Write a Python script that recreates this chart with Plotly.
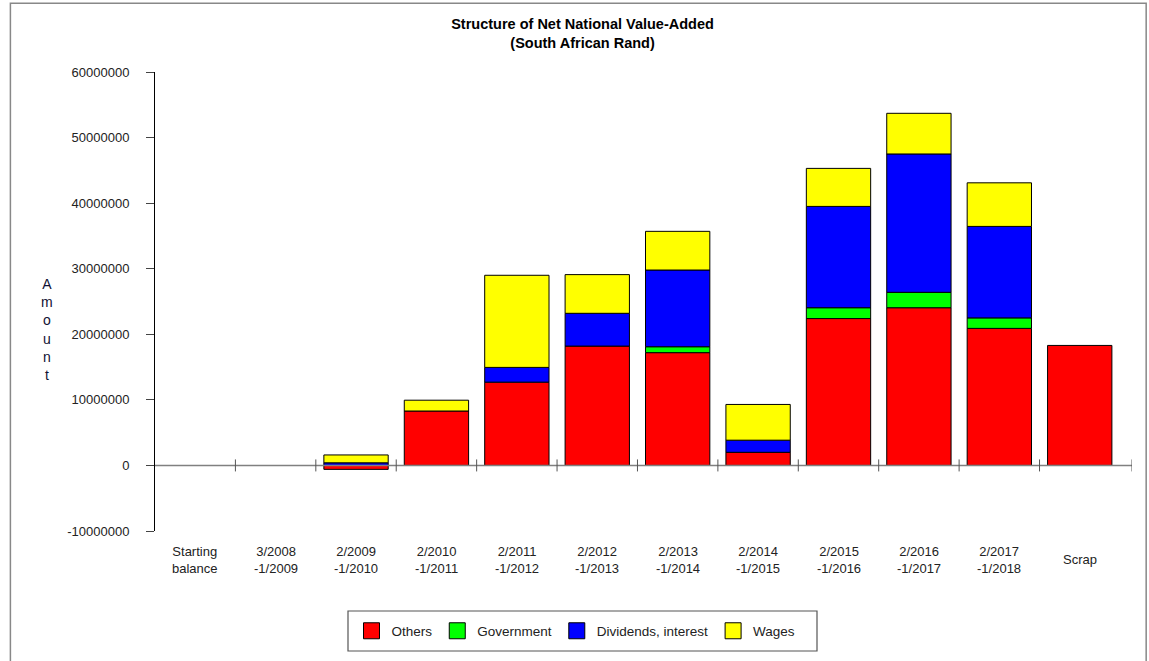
import plotly.graph_objects as go

categories = ["Starting<br>balance", "3/2008<br>-1/2009", "2/2009<br>-1/2010", "2/2010<br>-1/2011",
              "2/2011<br>-1/2012", "2/2012<br>-1/2013", "2/2013<br>-1/2014", "2/2014<br>-1/2015",
              "2/2015<br>-1/2016", "2/2016<br>-1/2017", "2/2017<br>-1/2018", "Scrap"]
others = [None, None, -600000, 8300000, 12700000, 18200000, 17200000, 2000000, 22400000, 24050000, 20900000, 18300000]
government = [None, None, None, None, None, None, 900000, None, 1650000, 2350000, 1600000, None]
dividends = [None, None, 400000, None, 2250000, 5000000, 11700000, 1850000, 15450000, 21100000, 13950000, None]
wages = [None, None, 1200000, 1650000, 14050000, 5900000, 5900000, 5450000, 5800000, 6200000, 6650000, None]
series_names = ["Others", "Government", "Dividends, interest", "Wages"]
series_colors = ["#ff0000", "#00ff00", "#0000ff", "#ffff00"]
y_ticks = [-10000000, 0, 10000000, 20000000, 30000000, 40000000, 50000000, 60000000]

FONT = "Liberation Sans, Arial, sans-serif"
xidx = list(range(len(categories)))

fig = go.Figure()
for name, vals, col in zip(series_names, [others, government, dividends, wages], series_colors):
    fig.add_trace(go.Bar(x=xidx, y=vals, name=name, marker=dict(color=col, line=dict(color="black", width=1)),
                         showlegend=False))
# legend swatches
for name, col in zip(series_names, series_colors):
    fig.add_trace(go.Scatter(x=[None], y=[None], mode="markers", name=name,
                             marker=dict(symbol="square", size=16, color=col, line=dict(color="black", width=1))))

x_end = 11.65
shapes = []
# zero baseline
shapes.append(dict(type="line", xref="x", yref="y", x0=-0.5, x1=x_end, y0=0, y1=0,
                   line=dict(color="#808080", width=1.5), layer="above"))
# category boundary ticks on the baseline
for k in list(range(1, len(categories))) + [None]:
    xv = x_end if k is None else k - 0.5
    shapes.append(dict(type="line", xref="x", yref="y", ysizemode="pixel", yanchor=0,
                       x0=xv, x1=xv, y0=-6, y1=6, line=dict(color="#555555", width=1)))
# outer frame
shapes.append(dict(type="rect", xref="paper", yref="paper", x0=-0.148, x1=1.0145, y0=-0.4, y1=1.15,
                   line=dict(color="#888888", width=1.5), layer="below"))
# legend box
shapes.append(dict(type="rect", xref="paper", yref="paper", x0=(348 - 155) / 977, x1=(817 - 155) / 977,
                   y0=(531 - 651) / 459, y1=(531 - 611) / 459, line=dict(color="#555555", width=1.2),
                   layer="below"))

annotations = []
for i, c in enumerate(categories):
    annotations.append(dict(x=i, y=-0.063, xref="x", yref="paper", text=c, showarrow=False,
                            yanchor="middle", xanchor="center", font=dict(family=FONT, size=13, color="#222222")))
annotations.append(dict(x=(47 - 155) / 977, y=0.44, xref="paper", yref="paper",
                        text="A<br>m<br>o<br>u<br>n<br>t", xanchor="center", yanchor="middle",
                        showarrow=False, font=dict(family=FONT, size=14, color="#111133")))

fig.update_layout(
    width=1149, height=661,
    margin=dict(l=155, r=17, t=72, b=130),
    barmode="relative", bargap=0.2,
    paper_bgcolor="white", plot_bgcolor="white",
    font=dict(family=FONT, size=12, color="#222222"),
    title=dict(text="<b>Structure of Net National Value-Added<br>(South African Rand)</b>",
               x=0.507, xanchor="center", y=1 - 29 / 661, yanchor="top", yref="container",
               font=dict(family=FONT, size=14.5, color="black")),
    xaxis=dict(range=[-0.5, x_end], showticklabels=False, showgrid=False, zeroline=False,
               showline=False, ticks=""),
    yaxis=dict(range=[-10000000, 60000000], tickvals=y_ticks, ticktext=[str(v) for v in y_ticks],
               showgrid=False, zeroline=False, showline=True, linecolor="black", linewidth=1,
               ticks="outside", ticklen=8, tickcolor="#444444", tickfont=dict(family=FONT, size=13, color="#222222"),
               ticklabelstandoff=14),
    legend=dict(orientation="h", x=(576 - 155) / 977, xanchor="center", y=(531 - 631) / 459, yanchor="middle",
                borderwidth=0, bgcolor="rgba(0,0,0,0)",
                font=dict(family=FONT, size=13.5, color="#222222"), itemsizing="trace"),
    shapes=shapes, annotations=annotations,
)

fig.write_html("out.html", config={"displayModeBar": False},
               post_script="document.body.style.margin='0';")
